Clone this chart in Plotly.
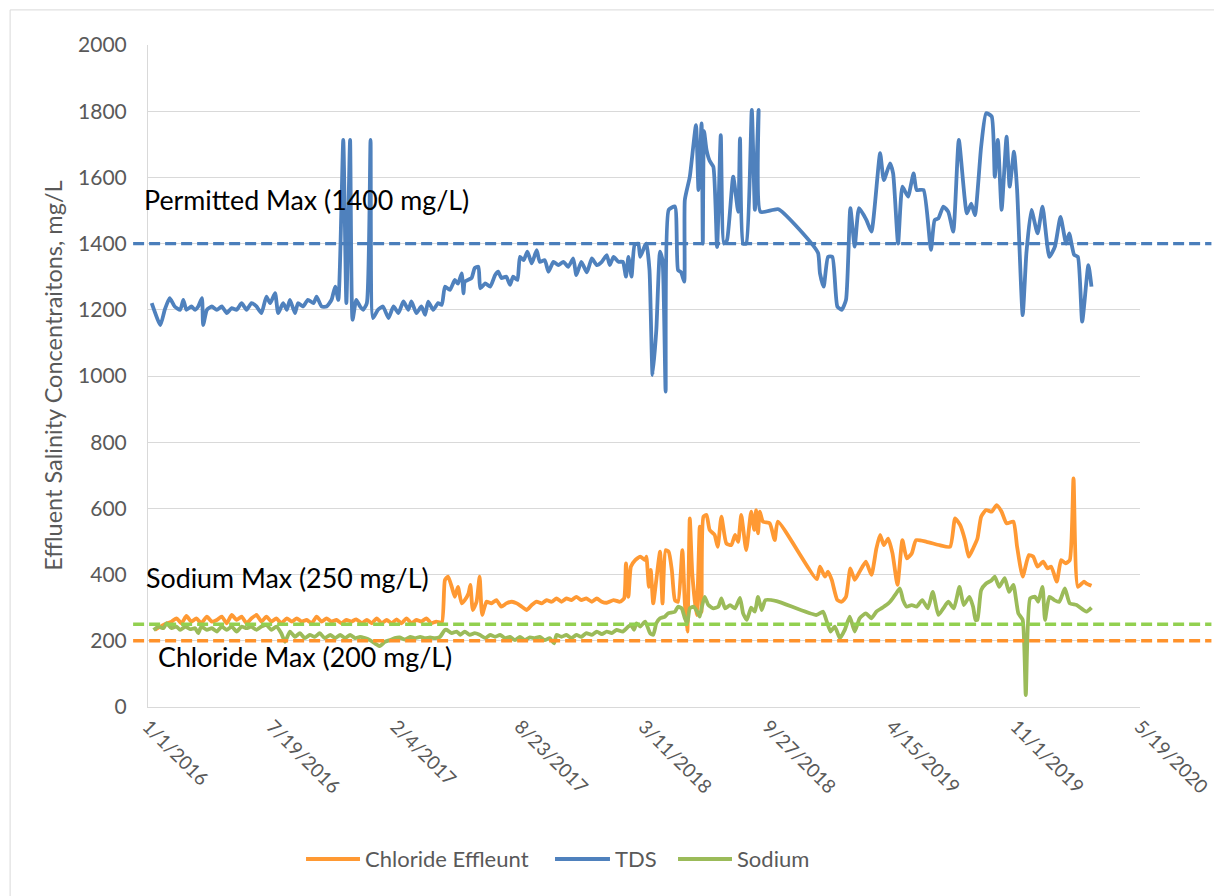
import pandas as pd
import plotly.graph_objects as go

# Sample days are counted from 1 Jan 2016
START_DATE = "2016-01-01"

tds_day = [6, 20, 27, 35, 43, 52, 57, 62, 70, 76, 81, 87, 89, 95, 103, 111, 119, 127, 135, 143,
           151, 159, 167, 175, 183, 191, 197, 205, 210, 218, 224, 229, 237, 242, 250, 258, 267, 272,
           280, 288, 296, 302, 307, 315, 320, 326, 330, 336, 342, 347, 353, 359, 363, 371, 379, 388,
           396, 404, 412, 420, 425, 433, 441, 447, 452, 460, 468, 474, 479, 487, 495, 500, 506, 509,
           511, 522, 527, 533, 536, 544, 552, 560, 565, 570, 578, 584, 589, 596, 600, 606, 612, 619,
           627, 632, 640, 646, 654, 662, 670, 678, 686, 691, 699, 708, 716, 724, 732, 740, 745, 751,
           759, 766, 771, 775, 780, 785, 791, 794, 802, 804, 809, 814, 820, 826, 830, 835, 840, 850,
           855, 860, 865, 866, 874, 884, 888, 893, 895, 897, 901, 906, 912, 918, 924, 929, 934, 944,
           952, 955, 960, 965, 974, 979, 985, 988, 1017, 1068, 1081, 1084, 1090, 1097, 1104, 1112,
           1119, 1126, 1133, 1140, 1147, 1159, 1167, 1181, 1187, 1197, 1202, 1210, 1217, 1226, 1235,
           1240, 1251, 1263, 1269, 1275, 1283, 1291, 1299, 1308, 1321, 1328, 1334, 1344, 1352, 1361,
           1366, 1371, 1377, 1385, 1390, 1397, 1402, 1411, 1417, 1425, 1435, 1443, 1454, 1463, 1472,
           1481, 1486, 1494, 1500, 1507, 1517, 1522]
tds_mg_l = [1220, 1154, 1200, 1235, 1210, 1200, 1230, 1200, 1210, 1200, 1210, 1235, 1154, 1200, 1210,
            1200, 1210, 1190, 1205, 1200, 1220, 1200, 1220, 1210, 1190, 1240, 1220, 1250, 1190, 1220,
            1200, 1230, 1190, 1220, 1210, 1230, 1220, 1240, 1210, 1210, 1230, 1270, 1230, 1713, 1220,
            1713, 1170, 1230, 1210, 1200, 1220, 1713, 1175, 1200, 1210, 1175, 1210, 1190, 1225, 1200,
            1225, 1190, 1210, 1185, 1225, 1200, 1220, 1215, 1270, 1260, 1290, 1279, 1310, 1250, 1285,
            1296, 1326, 1330, 1265, 1280, 1270, 1305, 1315, 1296, 1300, 1275, 1300, 1290, 1360, 1350,
            1376, 1340, 1380, 1345, 1350, 1315, 1345, 1335, 1345, 1330, 1355, 1305, 1345, 1313, 1355,
            1335, 1345, 1365, 1335, 1360, 1345, 1345, 1300, 1360, 1300, 1396, 1400, 1360, 1396, 1400,
            1320, 1003, 1139, 1376, 1350, 953, 1502, 1512, 1320, 1313, 1285, 1532, 1602, 1758, 1562,
            1763, 1400, 1740, 1683, 1650, 1632, 1390, 1728, 1400, 1410, 1602, 1496, 1718, 1400, 1400,
            1804, 1502, 1804, 1496, 1504, 1406, 1371, 1310, 1270, 1360, 1360, 1210, 1200, 1230, 1507,
            1391, 1507, 1471, 1436, 1673, 1592, 1642, 1612, 1400, 1572, 1542, 1612, 1562, 1562, 1381,
            1471, 1476, 1512, 1496, 1436, 1713, 1491, 1521, 1486, 1693, 1794, 1784, 1602, 1713, 1502,
            1723, 1572, 1678, 1562, 1184, 1371, 1502, 1431, 1512, 1360, 1391, 1481, 1400, 1431, 1366,
            1360, 1164, 1335, 1270]

chloride_day = [11, 25, 38, 46, 54, 62, 70, 78, 86, 95, 103, 111, 119, 127, 135, 143, 151, 159, 167,
                175, 183, 191, 199, 207, 215, 224, 232, 240, 248, 256, 264, 272, 280, 288, 296, 304,
                312, 320, 328, 336, 345, 353, 361, 369, 377, 385, 393, 401, 409, 417, 425, 433, 441,
                449, 457, 465, 474, 479, 484, 490, 495, 500, 506, 511, 517, 520, 524, 530, 535, 539,
                546, 554, 562, 570, 578, 587, 595, 603, 611, 619, 627, 635, 643, 651, 659, 667, 675,
                683, 691, 699, 707, 716, 724, 732, 740, 751, 761, 768, 771, 775, 779, 786, 794, 802,
                804, 808, 811, 815, 820, 826, 830, 835, 840, 845, 850, 855, 862, 866, 870, 874, 878,
                885, 890, 893, 896, 901, 906, 914, 919, 925, 933, 941, 947, 952, 957, 965, 973, 978,
                981, 984, 987, 992, 1003, 1011, 1016, 1079, 1084, 1092, 1097, 1103, 1112, 1119, 1126,
                1133, 1140, 1148, 1158, 1167, 1175, 1181, 1187, 1194, 1201, 1209, 1217, 1224, 1232,
                1239, 1256, 1277, 1294, 1302, 1310, 1318, 1324, 1331, 1338, 1344, 1352, 1361, 1369,
                1377, 1385, 1396, 1402, 1411, 1421, 1428, 1435, 1444, 1451, 1457, 1466, 1473, 1480,
                1487, 1493, 1500, 1510, 1514, 1522]
chloride_mg_l = [233, 248, 258, 268, 253, 275, 258, 268, 253, 273, 258, 263, 273, 253, 278, 263, 273,
                 253, 268, 278, 258, 273, 258, 268, 253, 268, 258, 268, 258, 263, 253, 273, 258, 268,
                 258, 263, 253, 263, 258, 265, 253, 263, 253, 268, 253, 263, 253, 265, 253, 268, 253,
                 263, 258, 268, 253, 258, 255, 384, 394, 363, 333, 363, 313, 323, 343, 369, 293, 318,
                 394, 278, 318, 313, 323, 303, 313, 318, 313, 303, 293, 308, 318, 313, 323, 318, 328,
                 318, 328, 323, 333, 323, 328, 318, 328, 318, 315, 323, 318, 328, 434, 333, 424, 444,
                 454, 444, 454, 363, 414, 313, 384, 469, 313, 474, 469, 414, 323, 318, 474, 313, 228,
                 570, 404, 278, 545, 288, 575, 580, 535, 520, 484, 575, 494, 489, 520, 499, 580, 474,
                 590, 535, 595, 525, 590, 560, 555, 504, 560, 386, 424, 394, 409, 384, 323, 318, 333,
                 419, 384, 409, 439, 399, 479, 520, 489, 509, 464, 369, 504, 449, 464, 504, 499, 489,
                 484, 570, 550, 504, 454, 479, 509, 575, 595, 590, 610, 590, 555, 560, 484, 394, 459,
                 454, 424, 439, 419, 424, 379, 444, 434, 444, 691, 363, 379, 373, 366]

sodium_day = [9, 17, 25, 30, 38, 46, 52, 60, 68, 76, 81, 86, 95, 103, 111, 119, 127, 135, 143, 151,
              159, 167, 175, 183, 191, 199, 207, 215, 221, 229, 237, 245, 253, 261, 269, 277, 285, 294,
              302, 310, 318, 326, 334, 342, 350, 358, 366, 374, 382, 390, 398, 406, 415, 423, 431, 439,
              447, 455, 463, 471, 479, 482, 490, 498, 504, 511, 519, 527, 535, 544, 552, 560, 568, 576,
              584, 592, 600, 608, 616, 624, 632, 640, 648, 655, 659, 667, 675, 683, 691, 699, 707, 716,
              724, 732, 740, 748, 756, 766, 775, 779, 784, 788, 794, 802, 810, 815, 820, 826, 834, 839,
              850, 855, 861, 866, 870, 874, 880, 886, 890, 893, 898, 904, 912, 920, 925, 931, 939, 947,
              955, 960, 966, 973, 979, 984, 990, 996, 1014, 1078, 1089, 1095, 1101, 1108, 1116, 1124,
              1132, 1140, 1148, 1158, 1167, 1175, 1183, 1191, 1197, 1205, 1213, 1218, 1224, 1232, 1240,
              1249, 1258, 1266, 1275, 1283, 1291, 1300, 1309, 1316, 1325, 1331, 1335, 1338, 1344, 1352,
              1361, 1366, 1373, 1382, 1389, 1396, 1404, 1411, 1416, 1423, 1431, 1436, 1443, 1447, 1454,
              1462, 1470, 1479, 1487, 1498, 1514, 1522]
sodium_mg_l = [233, 243, 238, 253, 238, 243, 233, 243, 235, 238, 223, 243, 233, 238, 228, 243, 233,
               243, 228, 243, 238, 243, 233, 243, 248, 233, 243, 223, 197, 228, 212, 223, 208, 218,
               212, 223, 208, 218, 208, 218, 208, 218, 208, 212, 208, 202, 192, 184, 197, 202, 208,
               210, 204, 212, 208, 212, 208, 210, 208, 212, 233, 233, 223, 228, 218, 228, 218, 223,
               218, 208, 218, 212, 218, 208, 212, 202, 212, 202, 210, 208, 212, 202, 208, 192, 218,
               212, 218, 208, 218, 212, 223, 218, 228, 220, 228, 223, 233, 228, 243, 248, 233, 253,
               243, 258, 223, 218, 253, 268, 273, 283, 288, 303, 298, 268, 253, 298, 303, 288, 273,
               298, 333, 308, 298, 303, 328, 298, 308, 298, 330, 283, 263, 300, 288, 333, 293, 323,
               320, 278, 288, 258, 228, 243, 208, 233, 273, 228, 268, 283, 268, 288, 298, 308, 318,
               338, 358, 323, 303, 308, 303, 323, 298, 348, 278, 298, 318, 298, 363, 308, 333, 303,
               263, 263, 353, 373, 383, 394, 363, 389, 348, 369, 283, 263, 36, 328, 333, 318, 363,
               263, 333, 323, 318, 358, 313, 308, 288, 300]

# Regulatory limits, mg/L
PERMITTED_MAX_TDS = 1400
SODIUM_MAX = 250
CHLORIDE_MAX = 200

# Date axis ticks every 200 days
tick_dates = ["2016-01-01", "2016-07-19", "2017-02-04", "2017-08-23", "2018-03-11",
              "2018-09-27", "2019-04-15", "2019-11-01", "2020-05-19"]
tick_labels = ["1/1/2016", "7/19/2016", "2/4/2017", "8/23/2017", "3/11/2018",
               "9/27/2018", "4/15/2019", "11/1/2019", "5/19/2020"]


def to_dates(days):
    return pd.Timestamp(START_DATE) + pd.to_timedelta(days, unit="D")


FONT = "Lato"
GRAY = "#595959"
ORANGE = "#FF9933"
BLUE = "#4F81BD"
GREEN = "#9BBB59"

fig = go.Figure()
series = [
    ("Chloride Effleunt", chloride_day, chloride_mg_l, ORANGE),
    ("TDS", tds_day, tds_mg_l, BLUE),
    ("Sodium", sodium_day, sodium_mg_l, GREEN),
]
for name, days, vals, color in series:
    fig.add_trace(go.Scatter(
        x=to_dates(days), y=vals, name=name, mode="lines", showlegend=False,
        line=dict(color=color, width=3.8, shape="spline", smoothing=0.5),
    ))

# Limit lines run a little past both edges of the plot area
limit_lines = [
    (PERMITTED_MAX_TDS, "#4A7EBB"),
    (SODIUM_MAX, "#92D050"),
    (CHLORIDE_MAX, "#FF922B"),
]
for value, color in limit_lines:
    fig.add_shape(type="line", xref="paper", yref="y", x0=-0.015, x1=1.072,
                  y0=value, y1=value, layer="above",
                  line=dict(color=color, width=3.4, dash="11px,5px"))

# Chart frame
fig.add_shape(type="rect", xref="paper", yref="paper", x0=-0.139, x1=1.2, y0=-0.4, y1=1.053,
              line=dict(color="#D9D9D9", width=1), layer="below")

# Legend drawn below the axis: line sample + series name
legend_y = -0.2296
legend_slots = [(0.1593, 0.2137, 0.2167), (0.4103, 0.4657, 0.4688), (0.5343, 0.5887, 0.5917)]
for (name, _, _, color), (lx0, lx1, tx) in zip(series, legend_slots):
    fig.add_shape(type="line", xref="paper", yref="paper", x0=lx0, x1=lx1,
                  y0=legend_y, y1=legend_y, line=dict(color=color, width=4))
    fig.add_annotation(text=name, xref="paper", yref="paper", x=tx, y=legend_y,
                       xanchor="left", yanchor="middle", showarrow=False,
                       font=dict(family=FONT, size=22, color=GRAY))

label_font = dict(family=FONT, size=26.8, color="#000000")
fig.add_annotation(text=f"Permitted Max ({PERMITTED_MAX_TDS} mg/L)", xref="paper", yref="paper",
                   x=-0.006, y=0.766, xanchor="left", yanchor="middle", showarrow=False, font=label_font)
fig.add_annotation(text=f"Sodium Max ({SODIUM_MAX} mg/L)", xref="paper", yref="paper",
                   x=-0.004, y=0.195, xanchor="left", yanchor="middle", showarrow=False, font=label_font)
fig.add_annotation(text=f"Chloride Max ({CHLORIDE_MAX} mg/L)", xref="paper", yref="paper",
                   x=0.008, y=0.0755, xanchor="left", yanchor="middle", showarrow=False, font=label_font)
fig.add_annotation(text="Effluent Salinity Concentraitons, mg/L", xref="paper", yref="paper",
                   x=-0.096, y=0.5, xanchor="center", yanchor="middle", textangle=-90,
                   showarrow=False, font=dict(family=FONT, size=23.5, color=GRAY))

fig.update_layout(
    width=1214, height=896,
    margin=dict(l=148, r=74, t=45, b=189, autoexpand=False),
    paper_bgcolor="white", plot_bgcolor="white",
    font=dict(family=FONT, color=GRAY),
    showlegend=False,
    xaxis=dict(type="date", range=[tick_dates[0], tick_dates[-1] + " 06:00"], tickmode="array",
               tickvals=tick_dates, ticktext=tick_labels, tickangle=45, showgrid=False,
               showline=True, linecolor="#D9D9D9", linewidth=1, ticks="", zeroline=False,
               ticklabeloverflow="allow", automargin=False,
               tickfont=dict(family=FONT, size=19, color=GRAY)),
    yaxis=dict(range=[0, 2000], dtick=200, tick0=0, showgrid=True, gridcolor="#D9D9D9",
               gridwidth=1, showline=True, linecolor="#D9D9D9", linewidth=1, ticks="",
               zeroline=False, ticklabelstandoff=16, automargin=False,
               tickfont=dict(family=FONT, size=21, color=GRAY)),
)

fig.write_html("out.html")
